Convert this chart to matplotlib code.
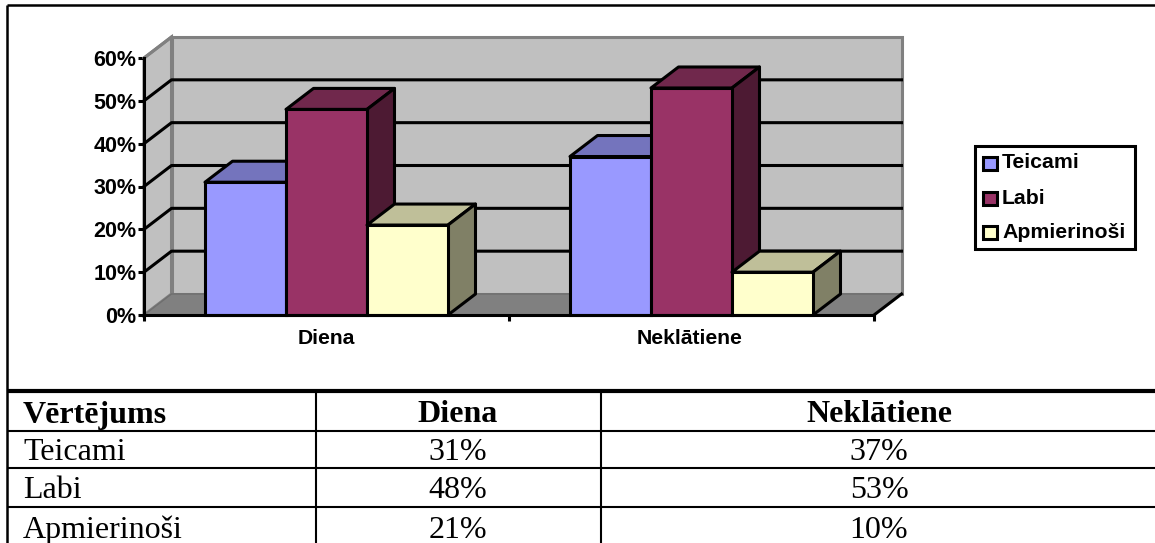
import matplotlib
matplotlib.use('Agg')
import matplotlib.pyplot as plt
from matplotlib.patches import Polygon, Rectangle

W, H = 1155, 543

categories = ['Diena', 'Neklātiene']
series = ['Teicami', 'Labi', 'Apmierinoši']
diena = [31, 48, 21]
neklatiene = [37, 53, 10]
y_ticks = [0, 10, 20, 30, 40, 50, 60]
table_head = ['Vērtējums', 'Diena', 'Neklātiene']

front = ['#9999ff', '#993366', '#ffffcc']
top = ['#7474bd', '#70284c', '#bfbf99']
side = ['#4f4f85', '#4d1a33', '#808066']

fig = plt.figure(figsize=(W / 100, H / 100), dpi=100)

# page layer, pixel coordinates
page = fig.add_axes([0, 0, 1, 1])
page.set_xlim(0, W)
page.set_ylim(H, 0)
page.axis('off')


def hline(y, x0=7, x1=W, lw=1.5):
    page.plot([x0, x1], [y, y], color='k', lw=lw, solid_capstyle='butt')


def vline(x, y0, y1, lw=1.5):
    page.plot([x, x], [y0, y1], color='k', lw=lw, solid_capstyle='butt')


hline(5, lw=1.8)
hline(391, lw=3)
vline(7, 5, H, lw=1.8)
vline(316, 391, H)
vline(601, 391, H)
for y in [431, 468, 507]:
    hline(y)

serif = 'Liberation Serif'
col_x = [23, 458, 879]
page.text(col_x[0], 415, table_head[0], family=serif, weight='bold', fontsize=23, va='center')
page.text(col_x[1], 415, table_head[1], family=serif, weight='bold', fontsize=23, va='center', ha='center')
page.text(col_x[2], 415, table_head[2], family=serif, weight='bold', fontsize=23, va='center', ha='center')
for name, a, b, y in zip(series, diena, neklatiene, [453, 491, 530]):
    page.text(col_x[0], y, name, family=serif, fontsize=23, va='center')
    page.text(col_x[1], y, '%d%%' % a, family=serif, fontsize=23, va='center', ha='center')
    page.text(col_x[2], y, '%d%%' % b, family=serif, fontsize=23, va='center', ha='center')

# front plane of the 3d chart: one unit on x is one category
ax = fig.add_axes([144 / W, 1 - 315 / H, 730 / W, 257 / H])
ax.patch.set_alpha(0)
ax.set_xlim(0, 2)
ax.set_ylim(0, 60)

# depth of the box, in data units
dx = 27.5 / 365
dy = 21 / 257 * 60
bw = 81 / 365

wall = '#c0c0c0'
edge = '#808080'
lw = 2.2
ax.add_patch(Polygon([(0, 0), (dx, dy), (dx, 60 + dy), (0, 60)], fc=wall, ec=edge, lw=lw, clip_on=False, zorder=1))
ax.add_patch(Rectangle((dx, dy), 2, 60, fc=wall, ec=edge, lw=lw, clip_on=False, zorder=1))
ax.add_patch(Polygon([(0, 0), (2, 0), (2 + dx, dy), (dx, dy)], fc='#808080', ec='#6e6e6e', lw=1, clip_on=False, zorder=1))
ax.plot([2, 2 + dx], [0, dy], color='k', lw=lw, clip_on=False, zorder=2)

for t in y_ticks[1:-1]:
    ax.plot([0, dx, 2 + dx], [t, t + dy, t + dy], color='k', lw=lw, clip_on=False, zorder=2)
ax.plot([0, dx], [60, 60 + dy], color=edge, lw=lw, clip_on=False, zorder=2)

for i, vals in enumerate([diena, neklatiene]):
    x0 = i + 0.5 - 1.5 * bw
    for j, v in enumerate(vals):
        x = x0 + j * bw
        z = 3 + j
        ax.add_patch(Polygon([(x, v), (x + bw, v), (x + bw + dx, v + dy), (x + dx, v + dy)],
                             fc=top[j], ec='k', lw=lw, joinstyle='round', clip_on=False, zorder=z))
        ax.add_patch(Polygon([(x + bw, 0), (x + bw + dx, dy), (x + bw + dx, v + dy), (x + bw, v)],
                             fc=side[j], ec='k', lw=lw, joinstyle='round', clip_on=False, zorder=z))
        ax.bar(x, v, bw, align='edge', color=front[j], edgecolor='k', lw=lw, clip_on=False, zorder=z + 0.5)

ax.spines['top'].set_visible(False)
ax.spines['right'].set_visible(False)
ax.spines['left'].set_linewidth(lw)
ax.spines['bottom'].set_linewidth(lw)
ax.spines['left'].set_zorder(8)
ax.spines['bottom'].set_zorder(8)
ax.set_yticks(y_ticks)
ax.set_yticklabels(['%d%%' % t for t in y_ticks], family='Liberation Sans', weight='bold', fontsize=15.5)
ax.set_xticks([0, 1, 2])
ax.set_xticklabels([])
ax.tick_params(axis='both', width=lw, length=4, pad=1.5, color='k')
for i, c in enumerate(categories):
    ax.text(i + 0.5 - i * 0.005, -5.4, c, family='Liberation Sans', weight='bold', fontsize=15.2, ha='center', va='center')

# legend
page.add_patch(Rectangle((975, 146), 160, 103, fc='w', ec='k', lw=lw, zorder=5))
for name, c, y in zip(series, front, [163, 198, 232]):
    page.add_patch(Rectangle((983, y - 6.5), 13.5, 13.5, fc=c, ec='k', lw=lw, zorder=6))
    page.text(1002, y, name, family='Liberation Sans', weight='bold', fontsize=15.3, va='center', zorder=6)

fig.savefig('out.png', dpi=100)
